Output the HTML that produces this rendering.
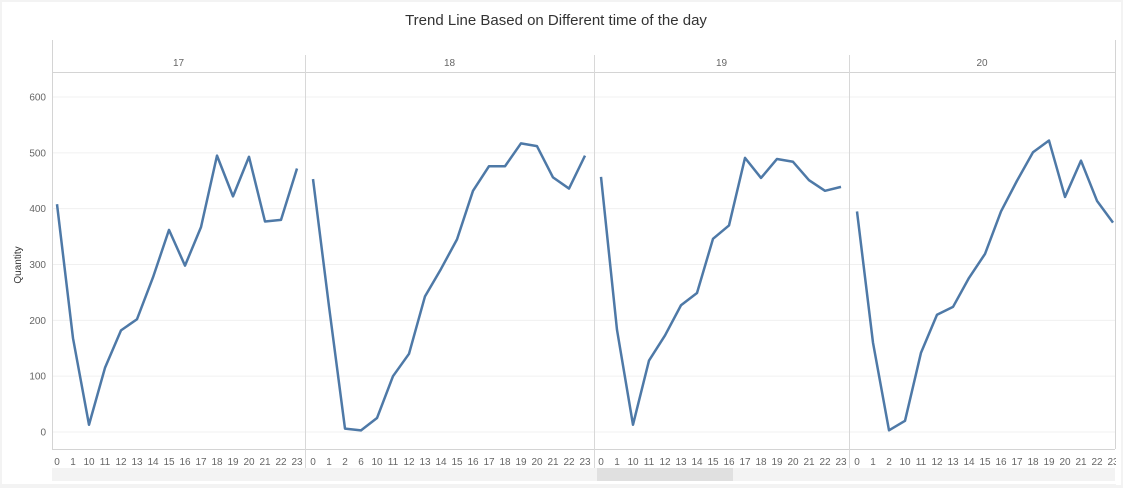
<!DOCTYPE html>
<html><head><meta charset="utf-8">
<style>
html,body{margin:0;padding:0;background:#f3f3f3;}
#wrap{position:absolute;left:2px;top:2px;width:1119px;height:482px;background:#fff;}
svg{position:absolute;left:0;top:0;font-family:"Liberation Sans",sans-serif;}
</style></head>
<body>
<div id="wrap"></div>
<svg id="chart" width="1123" height="488"></svg>
<script>
const days = ["17","18","19","20"];
const hours17 = ["0","1","10","11","12","13","14","15","16","17","18","19","20","21","22","23"];
const values17 = [408,168,13,115,182,202,277,362,298,367,495,422,493,377,380,472];
const hours18 = ["0","1","2","6","10","11","12","13","14","15","16","17","18","19","20","21","22","23"];
const values18 = [453,225,6,3,25,100,140,243,292,345,432,476,476,517,512,456,436,495];
const hours19 = ["0","1","10","11","12","13","14","15","16","17","18","19","20","21","22","23"];
const values19 = [457,183,13,128,173,227,249,346,370,491,455,489,484,451,432,439];
const hours20 = ["0","1","2","10","11","12","13","14","15","16","17","18","19","20","21","22","23"];
const values20 = [395,160,3,20,142,210,224,276,319,395,450,501,522,421,486,414,375];
const yTicks = [0,100,200,300,400,500,600];

const NS="http://www.w3.org/2000/svg";
const svg=document.getElementById('chart');
function mk(t,a,parent){const e=document.createElementNS(NS,t);for(const k in a)e.setAttribute(k,a[k]);(parent||svg).appendChild(e);return e;}
const y0=432, yScale=335/600;
function yPos(v){return y0-v*yScale;}
const leftX=52, rightX=1115, topY=40, headY=72, bottomY=449, band=16;

let t=mk('text',{x:556,y:25,'text-anchor':'middle','font-size':15,fill:'#333'});
t.textContent="Trend Line Based on Different time of the day";



yTicks.forEach(v=>{
  const g=mk('line',{x1:leftX,x2:rightX,y1:yPos(v),y2:yPos(v),stroke:'#f0f0f0','stroke-width':1});
  
  
  const l=mk('text',{x:46,y:yPos(v)+3.5,'text-anchor':'end','font-size':10,fill:'#666'});
  l.textContent=v;
  
  
});
let yt=mk('text',{x:21,y:265,'text-anchor':'middle','font-size':10,fill:'#333',transform:'rotate(-90 21 265)'});
yt.textContent="Quantity";



const l1=mk('line',{x1:leftX+0.5,x2:leftX+0.5,y1:topY,y2:bottomY,stroke:'#d4d4d4'});


const l2=mk('line',{x1:leftX,x2:rightX,y1:headY+0.5,y2:headY+0.5,stroke:'#d4d4d4'});


const l3=mk('line',{x1:leftX,x2:rightX,y1:bottomY+0.5,y2:bottomY+0.5,stroke:'#d4d4d4'});


const l4=mk('line',{x1:rightX+0.5,x2:rightX+0.5,y1:topY,y2:bottomY,stroke:'#d4d4d4'});



const hoursAll=[hours17,hours18,hours19,hours20];
const valsAll=[values17,values18,values19,values20];
const offsets=[5,8,7,8];
const widths=[253,289,255,266];
let px=leftX;
days.forEach((d,di)=>{
  const hrs=hoursAll[di], vals=valsAll[di];
  const x0=px+offsets[di];
  const xe=px+widths[di];
  if(di>0){
    const dv=mk('line',{x1:px+0.5,x2:px+0.5,y1:55,y2:480,stroke:'#d8d8d8'});
    
    
  }
  const hl=mk('text',{x:(px+Math.min(xe,rightX))/2,y:66,'text-anchor':'middle','font-size':10,fill:'#666'});
  hl.textContent=d;
  
  
  let pts=[];
  hrs.forEach((h,i)=>{
    const x=x0+i*band;
    pts.push(x+','+yPos(vals[i]));
    const tl=mk('text',{x:x,y:465,'text-anchor':'middle','font-size':10,fill:'#666'});
    tl.textContent=h;
    
    
  });
  const pl=mk('polyline',{points:pts.join(' '),fill:'none',stroke:'#4e79a7','stroke-width':2.5,'stroke-linejoin':'round'});
  
  
  px=xe;
});
const cover=mk('rect',{x:1116,y:40,width:5,height:445,fill:'#fff'});


const sb=mk('rect',{x:52,y:468,width:1063,height:13,fill:'#f3f3f3'});


const th=mk('rect',{x:597,y:468,width:136,height:13,fill:'#e0e0e0'});


</script>
</body></html>
